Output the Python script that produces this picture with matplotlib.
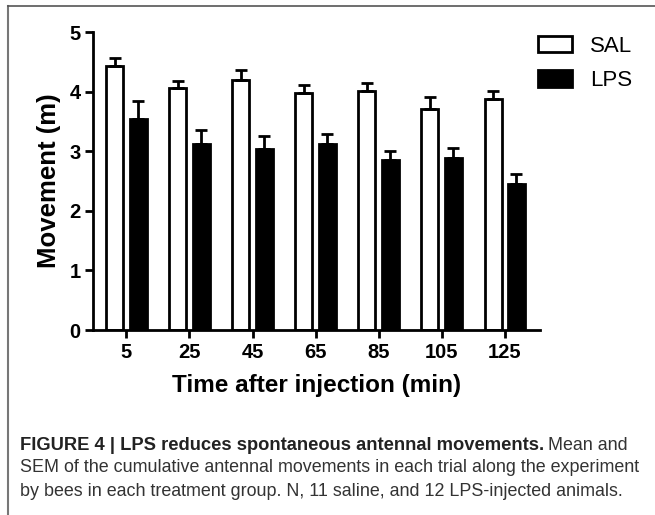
import matplotlib
matplotlib.use("Agg")
import matplotlib.pyplot as plt
import numpy as np
from matplotlib.lines import Line2D

times = ["5", "25", "45", "65", "85", "105", "125"]
sal_mean = [4.44, 4.06, 4.20, 3.98, 4.01, 3.72, 3.88]
sal_sem = [0.13, 0.12, 0.16, 0.13, 0.14, 0.20, 0.13]
lps_mean = [3.55, 3.13, 3.04, 3.13, 2.86, 2.89, 2.46]
lps_sem = [0.29, 0.23, 0.21, 0.16, 0.15, 0.17, 0.16]

plt.rcParams['font.family'] = ['Liberation Sans', 'DejaVu Sans']

W, H = 655, 515
fig = plt.figure(figsize=(W / 100, H / 100), dpi=100)
ax = fig.add_axes([93 / W, 1 - 330 / H, (540 - 93) / W, (330 - 32.3) / H])

x = np.arange(len(times))
bw = 0.27
off = 0.185
lw = 2.0
ax.bar(x - off, sal_mean, bw, color='white', edgecolor='black', linewidth=lw,
       yerr=[np.zeros(len(x)), sal_sem], capsize=4,
       error_kw=dict(elinewidth=lw, capthick=lw, ecolor='black'), zorder=2)
ax.bar(x + off, lps_mean, bw, color='black', edgecolor='black', linewidth=lw,
       yerr=[np.zeros(len(x)), lps_sem], capsize=4,
       error_kw=dict(elinewidth=lw, capthick=lw, ecolor='black'), zorder=2)

ax.set_xlim(-0.53, 6.56)
ax.set_ylim(0, 5)
ax.set_yticks([0, 1, 2, 3, 4, 5])
ax.set_xticks(x)
ax.set_xticklabels(times)
for s in ['top', 'right']:
    ax.spines[s].set_visible(False)
for s in ['left', 'bottom']:
    ax.spines[s].set_linewidth(2.0)
ax.tick_params(axis='both', width=2.0, length=6, labelsize=14.5, pad=3)
for lab in ax.get_xticklabels() + ax.get_yticklabels():
    lab.set_fontweight('bold')
ax.set_ylabel('Movement (m)', fontsize=18.5, fontweight='bold', labelpad=6)
ax.set_xlabel('Time after injection (min)', fontsize=17.5, fontweight='bold', labelpad=9)

handles = [plt.Rectangle((0, 0), 1, 1, facecolor='white', edgecolor='black', linewidth=2),
           plt.Rectangle((0, 0), 1, 1, facecolor='black', edgecolor='black', linewidth=2)]
fig.legend(handles, ['SAL', 'LPS'], loc='upper left', bbox_to_anchor=(518 / W, 1 - 16 / H),
           frameon=False, fontsize=16, handlelength=1.55, handleheight=0.75,
           handletextpad=0.8, labelspacing=0.6)

# frame lines
fig.add_artist(Line2D([7.5 / W, 7.5 / W], [0, 1 - 6 / H], transform=fig.transFigure,
                      color='#777777', linewidth=1.5))
fig.add_artist(Line2D([7.5 / W, 1], [1 - 6 / H, 1 - 6 / H], transform=fig.transFigure,
                      color='#555555', linewidth=1.2))

cap_font = ['Liberation Sans', 'DejaVu Sans']
cc = '#333333'
fs = 12.9
t1 = fig.text(20 / W, 1 - 445 / H, 'FIGURE 4 | LPS reduces spontaneous antennal movements.',
              fontsize=13.2, fontweight='bold', color='#222222', family=cap_font, va='center')
fig.canvas.draw()
bb = t1.get_window_extent()
fig.text(bb.x1 / W + 4 / W, 1 - 445 / H, 'Mean and', fontsize=fs, color=cc, family=cap_font, va='center')
fig.text(20 / W, 1 - 468 / H,
         'SEM of the cumulative antennal movements in each trial along the experiment',
         fontsize=fs, color=cc, family=cap_font, va='center')
fig.text(20 / W, 1 - 491 / H,
         'by bees in each treatment group. N, 11 saline, and 12 LPS-injected animals.',
         fontsize=fs, color=cc, family=cap_font, va='center')

fig.savefig('out.png', dpi=100)
